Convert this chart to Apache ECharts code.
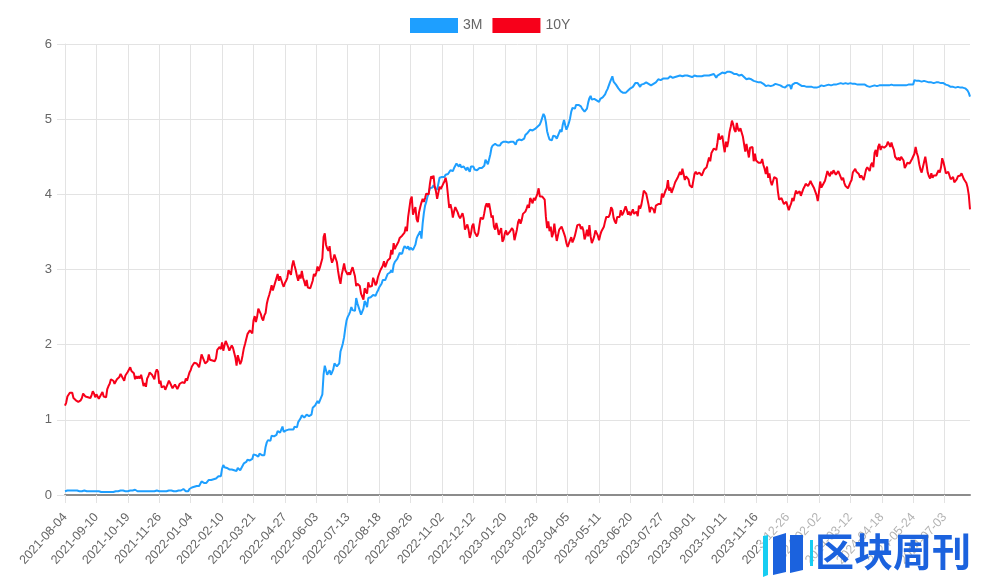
<!DOCTYPE html>
<html>
<head>
<meta charset="utf-8">
<script src="https://cdn.jsdelivr.net/npm/echarts@6/dist/echarts.min.js"></script>
<style>
html,body{margin:0;padding:0;background:#fff;}
#c{width:1000px;height:579px;}
</style>
</head>
<body>
<div id="c"></div>
<script>
// ---- categories: US bond-market trading days ----
const startDate = '2021-08-04';
const endDate = '2024-08-02';
const marketHolidays = [
  '2021-09-06','2021-10-11','2021-11-11','2021-11-25','2021-12-24',
  '2022-01-17','2022-02-21','2022-04-15','2022-05-30','2022-06-20','2022-07-04','2022-09-05','2022-10-10','2022-11-11','2022-11-24','2022-12-26',
  '2023-01-02','2023-01-16','2023-02-20','2023-05-29','2023-06-19','2023-07-04','2023-09-04','2023-10-09','2023-11-23','2023-12-25',
  '2024-01-01','2024-01-15','2024-02-19','2024-03-29','2024-05-27','2024-06-19','2024-07-04'
];
const seriesNames = ['3M', '10Y'];
const yTicks = [0, 1, 2, 3, 4, 5, 6];

// ---- values (%), one row per 26 trading days ----
const yield3M = [
0.05,0.05,0.06,0.06,0.06,0.06,0.06,0.06,0.06,0.06,0.06,0.06,0.05,0.05,0.05,0.06,0.06,0.05,0.05,0.05,0.05,0.05,0.05,0.05,0.05,0.05,
0.05,0.05,0.05,0.04,0.04,0.05,0.04,0.04,0.04,0.03,0.04,0.04,0.04,0.04,0.04,0.04,0.05,0.05,0.05,0.05,0.06,0.06,0.06,0.05,0.05,0.05,
0.05,0.05,0.06,0.06,0.06,0.07,0.07,0.06,0.05,0.05,0.05,0.05,0.05,0.05,0.05,0.05,0.05,0.05,0.05,0.05,0.05,0.05,0.05,0.05,0.06,0.07,
0.05,0.05,0.05,0.05,0.05,0.05,0.05,0.05,0.06,0.06,0.06,0.06,0.05,0.05,0.05,0.05,0.06,0.06,0.06,0.08,0.08,0.06,0.05,0.06,0.05,0.08,
0.09,0.10,0.10,0.11,0.12,0.12,0.12,0.12,0.14,0.18,0.17,0.16,0.16,0.16,0.18,0.20,0.20,0.20,0.22,0.21,0.21,0.22,0.24,0.25,0.26,0.25,
0.35,0.40,0.37,0.37,0.36,0.34,0.34,0.33,0.34,0.33,0.33,0.35,0.32,0.36,0.37,0.33,0.36,0.39,0.42,0.42,0.44,0.47,0.49,0.46,0.45,0.48,
0.54,0.56,0.53,0.52,0.51,0.55,0.56,0.53,0.52,0.53,0.64,0.70,0.73,0.71,0.72,0.79,0.79,0.78,0.79,0.80,0.85,0.84,0.83,0.87,0.91,0.84,
0.85,0.86,0.85,0.87,0.89,0.87,0.86,0.87,0.91,0.91,0.90,0.97,0.98,1.02,1.06,1.05,1.03,1.05,1.07,1.05,1.05,1.05,1.07,1.16,1.16,1.19,
1.21,1.25,1.22,1.26,1.27,1.34,1.60,1.72,1.66,1.60,1.59,1.66,1.60,1.63,1.67,1.75,1.76,1.71,1.72,1.75,1.91,1.96,2.02,2.10,2.22,2.32,
2.37,2.40,2.44,2.50,2.46,2.48,2.45,2.62,2.55,2.50,2.45,2.40,2.42,2.48,2.58,2.55,2.50,2.62,2.63,2.63,2.62,2.66,2.66,2.65,2.69,2.72,
2.76,2.78,2.81,2.86,2.88,2.86,2.90,2.94,2.95,2.96,2.99,2.96,3.06,3.10,3.10,3.14,3.18,3.22,3.21,3.21,3.27,3.31,3.33,3.28,3.31,3.26,
3.29,3.30,3.26,3.27,3.33,3.41,3.45,3.47,3.51,3.41,3.61,3.75,3.85,3.90,3.97,4.02,4.08,4.06,4.09,4.12,4.09,4.07,4.06,4.14,4.22,4.23,
4.23,4.24,4.23,4.26,4.28,4.27,4.26,4.32,4.31,4.31,4.35,4.37,4.41,4.39,4.37,4.40,4.36,4.37,4.37,4.36,4.32,4.36,4.33,4.30,4.37,4.36,
4.37,4.33,4.33,4.32,4.32,4.35,4.36,4.35,4.37,4.38,4.46,4.46,4.40,4.42,4.53,4.62,4.65,4.66,4.67,4.67,4.65,4.64,4.65,4.68,4.69,4.70,
4.70,4.70,4.71,4.69,4.69,4.70,4.70,4.70,4.70,4.66,4.71,4.71,4.73,4.72,4.72,4.73,4.74,4.79,4.79,4.82,4.82,4.86,4.84,4.85,4.86,4.87,
4.88,4.90,4.91,4.93,4.97,5.02,5.07,5.04,4.96,4.84,4.78,4.73,4.75,4.72,4.78,4.80,4.77,4.74,4.76,4.82,4.86,4.83,4.93,4.99,4.92,4.86,
4.90,4.95,5.01,5.10,5.15,5.13,5.14,5.19,5.20,5.19,5.21,5.17,5.14,5.12,5.10,5.09,5.14,5.22,5.28,5.31,5.26,5.25,5.27,5.28,5.25,5.24,
5.23,5.27,5.26,5.29,5.31,5.33,5.37,5.40,5.42,5.49,5.53,5.57,5.50,5.48,5.46,5.44,5.41,5.39,5.37,5.36,5.35,5.34,5.35,5.36,5.38,5.40,
5.41,5.42,5.43,5.45,5.48,5.49,5.48,5.47,5.43,5.46,5.47,5.47,5.48,5.49,5.48,5.47,5.45,5.45,5.47,5.47,5.49,5.49,5.51,5.53,5.52,5.52,
5.53,5.54,5.55,5.54,5.53,5.54,5.55,5.57,5.56,5.55,5.55,5.56,5.57,5.57,5.58,5.58,5.57,5.57,5.58,5.58,5.57,5.58,5.59,5.57,5.56,5.56,
5.56,5.58,5.58,5.57,5.56,5.57,5.57,5.57,5.58,5.58,5.58,5.58,5.58,5.58,5.58,5.59,5.59,5.60,5.60,5.55,5.58,5.60,5.60,5.61,5.62,5.62,
5.61,5.62,5.63,5.63,5.63,5.62,5.62,5.61,5.60,5.59,5.60,5.59,5.58,5.59,5.59,5.58,5.56,5.54,5.53,5.53,5.54,5.54,5.53,5.54,5.51,5.51,
5.50,5.49,5.49,5.49,5.49,5.48,5.47,5.45,5.44,5.45,5.45,5.45,5.44,5.44,5.45,5.46,5.47,5.47,5.46,5.45,5.45,5.44,5.43,5.42,5.42,5.42,
5.45,5.44,5.45,5.40,5.46,5.48,5.48,5.47,5.48,5.47,5.46,5.45,5.44,5.45,5.44,5.43,5.43,5.42,5.43,5.43,5.43,5.43,5.42,5.43,5.42,5.43,
5.43,5.45,5.45,5.44,5.44,5.45,5.45,5.47,5.46,5.45,5.45,5.45,5.46,5.46,5.46,5.46,5.47,5.47,5.48,5.46,5.47,5.46,5.48,5.47,5.47,5.47,
5.48,5.48,5.47,5.47,5.47,5.47,5.46,5.46,5.46,5.46,5.46,5.45,5.46,5.44,5.44,5.44,5.43,5.44,5.44,5.43,5.45,5.45,5.44,5.45,5.45,5.45,
5.45,5.45,5.45,5.45,5.45,5.46,5.45,5.45,5.46,5.46,5.45,5.45,5.45,5.45,5.45,5.45,5.45,5.45,5.45,5.45,5.45,5.45,5.46,5.46,5.46,5.46,
5.46,5.52,5.52,5.51,5.51,5.51,5.51,5.50,5.50,5.51,5.51,5.50,5.49,5.49,5.49,5.49,5.48,5.48,5.48,5.49,5.49,5.49,5.48,5.48,5.49,5.48,
5.47,5.46,5.46,5.45,5.45,5.43,5.43,5.43,5.42,5.42,5.43,5.43,5.43,5.42,5.42,5.42,5.41,5.41,5.40,5.38,5.35,5.30
];

const yield10Y = [
1.19,1.23,1.31,1.32,1.36,1.36,1.36,1.29,1.27,1.26,1.27,1.24,1.26,1.26,1.29,1.35,1.35,1.31,1.29,1.30,1.30,1.29,1.33,1.38,1.35,1.30,
1.34,1.33,1.28,1.31,1.34,1.37,1.31,1.32,1.30,1.41,1.45,1.48,1.54,1.55,1.52,1.48,1.49,1.54,1.53,1.57,1.61,1.58,1.55,1.52,1.59,1.59,
1.64,1.67,1.70,1.65,1.64,1.62,1.54,1.58,1.55,1.58,1.55,1.60,1.53,1.45,1.49,1.44,1.55,1.58,1.63,1.63,1.60,1.59,1.54,1.63,1.67,1.64,
1.48,1.52,1.43,1.41,1.45,1.40,1.44,1.48,1.52,1.49,1.48,1.42,1.44,1.47,1.44,1.41,1.43,1.48,1.46,1.50,1.48,1.49,1.55,1.52,1.52,1.63,
1.66,1.71,1.73,1.76,1.78,1.75,1.74,1.70,1.78,1.87,1.83,1.83,1.75,1.75,1.78,1.87,1.80,1.78,1.79,1.81,1.78,1.82,1.93,1.92,1.97,1.94,
2.03,1.92,1.99,2.05,2.03,1.97,1.92,1.94,1.99,1.96,1.97,1.83,1.72,1.86,1.86,1.74,1.78,1.86,1.95,2.01,2.00,2.14,2.16,2.19,2.20,2.15,
2.32,2.38,2.30,2.37,2.48,2.46,2.41,2.35,2.32,2.39,2.42,2.54,2.61,2.66,2.72,2.79,2.72,2.70,2.83,2.85,2.94,2.85,2.91,2.90,2.81,2.77,
2.82,2.85,2.89,2.99,2.97,2.93,3.05,3.12,3.05,2.99,2.91,2.85,2.93,2.88,2.98,2.89,2.84,2.78,2.86,2.76,2.75,2.75,2.74,2.85,2.94,2.91,
2.96,3.04,2.98,3.03,3.04,3.15,3.43,3.48,3.33,3.28,3.25,3.31,3.16,3.09,3.13,3.20,3.20,3.10,2.98,2.88,2.81,2.93,3.00,3.08,2.99,2.96,
2.93,2.96,2.93,2.99,3.03,3.03,2.91,2.78,2.81,2.81,2.78,2.68,2.67,2.60,2.75,2.73,2.68,2.83,2.77,2.79,2.78,2.89,2.85,2.79,2.82,2.90,
2.88,2.99,3.02,3.05,3.11,3.03,3.04,3.12,3.11,3.15,3.26,3.20,3.35,3.27,3.31,3.32,3.37,3.42,3.41,3.45,3.45,3.49,3.57,3.51,3.70,3.69,
3.93,3.97,3.73,3.78,3.83,3.67,3.63,3.76,3.83,3.89,3.94,3.90,3.95,4.01,4.02,4.00,4.14,4.24,4.21,4.25,4.10,4.04,3.94,4.02,4.10,4.07,
4.06,4.14,4.17,4.22,4.14,4.12,3.82,3.87,3.80,3.69,3.77,3.83,3.83,3.76,3.71,3.68,3.68,3.75,3.68,3.53,3.51,3.60,3.53,3.42,3.48,3.58,
3.61,3.50,3.48,3.44,3.48,3.59,3.69,3.67,3.67,3.75,3.84,3.88,3.83,3.88,3.79,3.69,3.72,3.57,3.53,3.62,3.55,3.46,3.51,3.55,3.37,3.40,
3.48,3.52,3.46,3.45,3.50,3.52,3.55,3.52,3.39,3.40,3.53,3.63,3.67,3.61,3.66,3.74,3.72,3.77,3.81,3.86,3.82,3.95,3.92,3.88,3.95,3.92,
3.92,4.01,4.08,3.97,3.98,3.97,3.98,3.93,3.70,3.55,3.64,3.51,3.57,3.43,3.48,3.61,3.48,3.38,3.38,3.53,3.55,3.57,3.55,3.48,3.43,3.35,
3.30,3.30,3.39,3.43,3.36,3.40,3.45,3.52,3.59,3.58,3.60,3.54,3.57,3.52,3.40,3.45,3.53,3.44,3.59,3.44,3.35,3.39,3.44,3.52,3.52,3.45,
3.39,3.46,3.51,3.53,3.57,3.64,3.70,3.72,3.70,3.74,3.83,3.80,3.69,3.64,3.61,3.70,3.69,3.70,3.79,3.72,3.75,3.77,3.84,3.79,3.73,3.77,
3.72,3.72,3.80,3.74,3.72,3.77,3.71,3.85,3.81,3.86,3.95,4.05,4.06,4.01,3.99,3.86,3.76,3.83,3.81,3.80,3.75,3.85,3.84,3.87,3.89,3.87,
4.01,3.96,3.97,4.05,4.08,4.19,4.05,4.09,4.02,4.01,4.11,4.16,4.19,4.22,4.26,4.30,4.26,4.34,4.33,4.19,4.24,4.25,4.20,4.12,4.12,4.09,
4.18,4.27,4.30,4.27,4.26,4.29,4.27,4.25,4.29,4.33,4.32,4.36,4.35,4.49,4.44,4.55,4.56,4.61,4.59,4.59,4.69,4.81,4.73,4.72,4.78,4.66,
4.56,4.70,4.63,4.71,4.83,4.90,4.98,4.93,4.86,4.83,4.95,4.87,4.84,4.88,4.88,4.77,4.67,4.57,4.67,4.58,4.49,4.62,4.61,4.63,4.44,4.54,
4.45,4.44,4.42,4.41,4.42,4.47,4.39,4.34,4.27,4.37,4.22,4.28,4.17,4.12,4.14,4.23,4.24,4.21,4.04,3.93,3.91,3.95,3.93,3.87,3.89,3.90,
3.89,3.79,3.84,3.88,3.95,3.91,3.99,4.05,4.01,4.02,4.04,3.98,3.96,4.07,4.10,4.14,4.15,4.11,4.14,4.18,4.14,4.15,4.08,4.06,3.99,3.91,
4.03,4.17,4.09,4.12,4.15,4.18,4.18,4.31,4.27,4.24,4.30,4.27,4.32,4.33,4.26,4.28,4.31,4.27,4.25,4.19,4.22,4.15,4.11,4.09,4.08,4.10,
4.16,4.19,4.29,4.31,4.34,4.30,4.28,4.27,4.22,4.25,4.23,4.19,4.20,4.33,4.36,4.36,4.31,4.39,4.42,4.36,4.55,4.59,4.50,4.63,4.67,4.59,
4.64,4.62,4.62,4.60,4.65,4.70,4.67,4.63,4.69,4.63,4.59,4.50,4.49,4.46,4.49,4.45,4.50,4.49,4.45,4.35,4.38,4.42,4.44,4.41,4.43,4.47,
4.47,4.54,4.63,4.55,4.50,4.40,4.33,4.29,4.29,4.43,4.50,4.40,4.29,4.24,4.21,4.28,4.22,4.25,4.26,4.25,4.24,4.32,4.29,4.36,4.48,4.43,
4.36,4.28,4.28,4.30,4.28,4.20,4.18,4.23,4.16,4.16,4.20,4.24,4.26,4.25,4.28,4.26,4.20,4.18,4.15,4.09,3.99,3.80
];

function buildTradingDays(start, end, holidays) {
  const hs = new Set(holidays);
  const out = [];
  const d = new Date(start + 'T00:00:00Z');
  const e = new Date(end + 'T00:00:00Z');
  while (d <= e) {
    const wd = d.getUTCDay();
    const s = d.toISOString().slice(0, 10);
    if (wd !== 0 && wd !== 6 && !hs.has(s)) out.push(s);
    d.setUTCDate(d.getUTCDate() + 1);
  }
  return out;
}
const dates = buildTradingDays(startDate, endDate, marketHolidays);

const BLUE = '#1E9FFF';
const RED = '#F7001A';
const GRID = '#e3e3e3';
const FONT = '"Liberation Sans", Arial, Helvetica, sans-serif';

const chart = echarts.init(document.getElementById('c'), null, {renderer: 'canvas'});

const graphics = [
  {type: 'rect', z: 100, shape: {x: 758, y: 503, width: 242, height: 76}, style: {fill: 'rgba(255,255,255,0.5)'}},
  {type: 'polygon', z: 101, shape: {points: [[763,536],[768,535],[768,575],[763,577]]}, style: {fill: '#17cdf2'}},
  {type: 'polygon', z: 101, shape: {points: [[773,537],[786,533],[786,572],[773,575]]}, style: {fill: '#1b62de'}},
  {type: 'polygon', z: 101, shape: {points: [[790,535],[803,535],[803,570],[790,573]]}, style: {fill: '#1b62de'}},
  {type: 'rect', z: 101, shape: {x: 810, y: 540, width: 3, height: 26}, style: {fill: '#17cdf2'}},
  {type: 'text', z: 101, left: 815, top: 532, style: {text: '区块周刊', fill: '#1b62de', font: 'bold 39px "Noto Sans CJK SC", sans-serif'}}
];
if (dates.length !== yield3M.length || dates.length !== yield10Y.length) {
  graphics.push({type: 'text', left: 80, top: 60, z: 200, style: {text: 'len ' + dates.length + ' ' + yield3M.length + ' ' + yield10Y.length, fill: '#000', font: '16px sans-serif'}});
}

chart.setOption({
  animation: false,
  backgroundColor: '#fff',
  textStyle: {fontFamily: FONT},
  legend: {
    data: seriesNames,
    left: 410, top: 18, padding: 0,
    icon: 'rect',
    itemWidth: 48, itemHeight: 15, itemGap: 10,
    textStyle: {color: '#666', fontSize: 14, fontFamily: FONT}
  },
  grid: {left: 65, right: 30, top: 44, bottom: 84, containLabel: false},
  xAxis: {
    type: 'category',
    data: dates,
    boundaryGap: false,
    axisLine: {lineStyle: {color: '#8c8c8c', width: 2}},
    axisTick: {show: true, interval: 25, length: 8, lineStyle: {color: GRID}},
    axisLabel: {interval: 25, rotate: 48, color: '#666', fontSize: 12.5, margin: 20, padding: [11, 0, 0, 0], fontFamily: FONT},
    splitLine: {show: true, interval: 25, lineStyle: {color: GRID}}
  },
  yAxis: {
    type: 'value',
    min: yTicks[0], max: yTicks[yTicks.length - 1], interval: 1,
    axisLine: {show: true, lineStyle: {color: GRID}},
    axisTick: {show: true, length: 8, lineStyle: {color: GRID}},
    axisLabel: {color: '#666', fontSize: 13, margin: 13, fontFamily: FONT},
    splitLine: {show: true, lineStyle: {color: GRID}}
  },
  series: [
    {name: seriesNames[0], type: 'line', data: yield3M, showSymbol: false, symbol: 'none',
     lineStyle: {width: 2, color: BLUE}, itemStyle: {color: BLUE}},
    {name: seriesNames[1], type: 'line', data: yield10Y, showSymbol: false, symbol: 'none',
     lineStyle: {width: 2, color: RED}, itemStyle: {color: RED}}
  ],
  graphic: graphics
});
</script>
</body>
</html>
